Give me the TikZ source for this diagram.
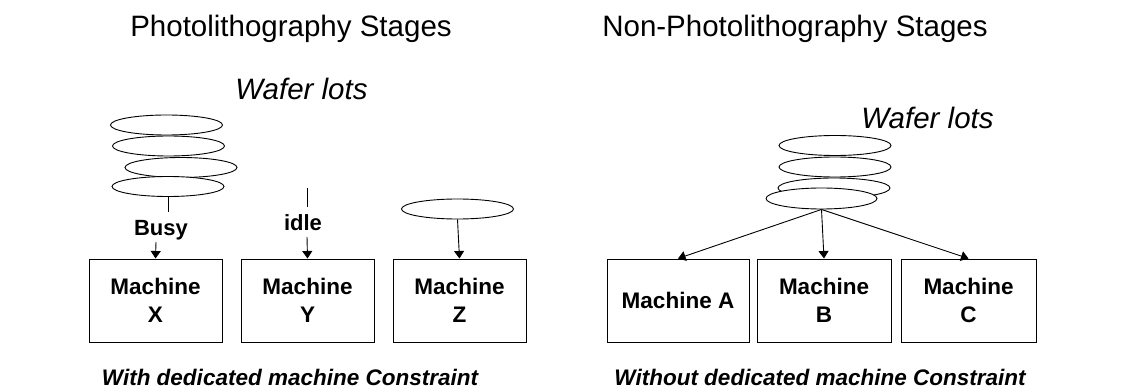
\documentclass[tikz,border=0pt]{standalone}
\usepackage{fontspec}
\setmainfont{Liberation Sans}
\usetikzlibrary{shapes.geometric,arrows.meta}
\begin{document}
\begin{tikzpicture}[x=1pt,y=-1pt,
  lot/.style={draw,ellipse,fill=white,line width=0.9pt,minimum width=112pt,minimum height=20pt,inner sep=0pt},
  machine/.style={draw,line width=1pt,minimum height=83pt,align=center,inner sep=0pt,
    font=\fontsize{22.5}{28}\selectfont\bfseries},
  link/.style={line width=0.9pt},
  arr/.style={line width=0.9pt,-{Triangle[length=7.5pt,width=10pt]}},
  heading/.style={anchor=base,inner sep=0pt,font=\fontsize{29.5}{34}\selectfont},
  lotlabel/.style={anchor=base,inner sep=0pt,font=\fontsize{29.5}{34}\selectfont\itshape},
  state/.style={anchor=base,inner sep=0pt,font=\fontsize{22}{26}\selectfont\bfseries},
  caption/.style={anchor=base,inner sep=0pt,font=\fontsize{22.5}{26}\selectfont\bfseries\itshape}]
\useasboundingbox (0,0) rectangle (1140,390);

% ---------- Photolithography stages ----------
\node[heading] (tl) at (291,37) {Photolithography Stages};
\node[lotlabel] (wl) at (301.5,100) {Wafer lots};

\node[lot] (l1) at (166.5,125) {};
\node[lot] (l2) at (168.5,146) {};
\node[lot] (l3) at (181,167.5) {};
\node[lot] (l4) at (168,186.5) {};
\node[lot] (lz) at (457.5,209) {};

\node[machine,minimum width=133pt] (X) at (155.5,300.5) {Machine\\X};
\node[machine,minimum width=133pt] (Y) at (307.5,300.5) {Machine\\Y};
\node[machine,minimum width=133pt] (Z) at (459.5,300.5) {Machine\\Z};

\node[state] (busy) at (161,235) {Busy};
\node[state] (idle) at (303,230) {idle};

% queue waiting for the busy machine X
\coordinate (xq) at (168,212);
\coordinate (xa) at (156,242);
\draw[link] (l4.south) -- (xq);
\draw[arr] (xa) -- (X.north);

% idle machine Y
\coordinate (yt) at (307,188);
\coordinate (ym) at (307,207);
\coordinate (ya) at (307,237);
\draw[link] (yt) -- (ym);
\draw[arr] (ya) -- (Y.north);

% lot dedicated to machine Z
\draw[arr] (lz.south) -- (Z.north);

\node[caption] (cl) at (290,385) {With dedicated machine Constraint};

% ---------- Non-photolithography stages ----------
\node[heading] (tr) at (795,37) {Non-Photolithography Stages};
\node[lotlabel] (wr) at (927.5,129) {Wafer lots};

\node[lot] (r1) at (835,145.5) {};
\node[lot] (r2) at (835,167) {};
\node[lot] (r3) at (834,188) {};
\node[lot,minimum width=111pt,minimum height=21pt] (r4) at (821.5,198.5) {};

\node[machine,minimum width=142pt] (A) at (678,300.5) {Machine A};
\node[machine,minimum width=134pt] (B) at (824,300.5) {Machine\\B};
\node[machine,minimum width=135pt] (C) at (968.5,300.5) {Machine\\C};

\draw[arr] (r4.south) -- (A.north);
\draw[arr] (r4.south) -- (B.north);
\draw[arr] (r4.south) -- (C.north);

\node[caption] (cr) at (820,385) {Without dedicated machine Constraint};
\end{tikzpicture}
\end{document}
